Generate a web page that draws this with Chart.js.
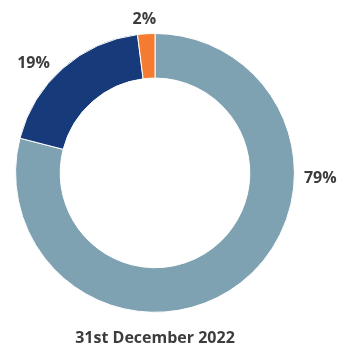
<!DOCTYPE html>
<html>
<head>
<meta charset="utf-8">
<script src="https://cdn.jsdelivr.net/npm/chart.js@4"></script>
<style>
  html, body { margin: 0; padding: 0; background: #fff; }
  #wrap { width: 345px; height: 348px; }
</style>
</head>
<body>
<div id="wrap"><canvas id="pie-chart"></canvas></div>
<script>
// Data
const categories = ["Category A", "Category B", "Category C"];
const shares = [79, 19, 2];
const colours = ["#7fa2b2", "#173b7a", "#f47b30"];
const chartTitle = "31st December 2022";

// where each label sits around the ring (degrees from top, clockwise) and its gap outside it
const labelAngles = [92, -48, -4];
const labelGaps = [26, 24, 14];

// draw the % labels outside the ring
const outsideLabels = {
  id: "outsideLabels",
  afterDatasetsDraw(chart) {
    const ctx = chart.ctx;
    const arcs = chart.getDatasetMeta(0).data;
    ctx.save();
    ctx.font = "bold 16px 'Open Sans'";
    ctx.fillStyle = "#3c3c3c";
    ctx.textAlign = "center";
    ctx.textBaseline = "middle";
    arcs.forEach((arc, i) => {
      const a = (labelAngles[i] * Math.PI) / 180;
      const r = arc.outerRadius + labelGaps[i];
      const x = arc.x + r * Math.sin(a);
      const y = arc.y - r * Math.cos(a);
      ctx.fillText(shares[i] + "%", x, y);
    });
    ctx.restore();
  },
};

const ctx = document.getElementById("pie-chart").getContext("2d");
const shareChart = new Chart(ctx, {
  type: "doughnut",
  data: {
    labels: categories,
    datasets: [
      {
        data: shares,
        backgroundColor: colours,
        borderColor: "#ffffff",
        borderWidth: 1,
      },
    ],
  },
  options: {
    responsive: true,
    maintainAspectRatio: false,
    animation: false,
    cutout: "68%",
    rotation: 0,
    layout: {
      padding: { left: 15, right: 50, top: 33, bottom: 0 },
    },
    plugins: {
      legend: { display: false },
      tooltip: { enabled: false },
      title: {
        display: true,
        position: "bottom",
        text: chartTitle,
        color: "#3c3c3c",
        font: { family: "'Open Sans'", size: 16, weight: "bold", lineHeight: 1.2 },
        padding: { top: 16, bottom: 0 },
      },
    },
  },
  plugins: [outsideLabels],
});
</script>
</body>
</html>
